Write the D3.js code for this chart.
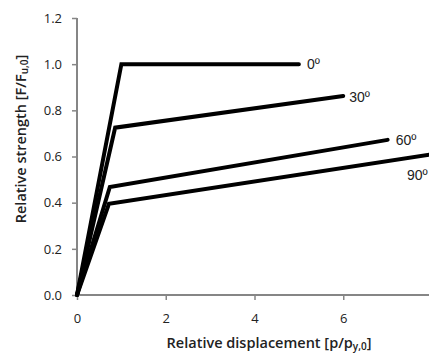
<!DOCTYPE html>
<html>
<head>
<meta charset="utf-8">
<script src="https://cdn.jsdelivr.net/npm/d3@7"></script>
<style>
  body { margin: 0; background: #fff; }
  svg { display: block; }
</style>
</head>
<body>
<svg></svg>
<script>
// curves: relative displacement vs relative strength
var angles = ["0º", "30º", "60º", "90º"]
var xVals = [
    [0, 1.0, 5],
    [0, 0.86, 6],
    [0, 0.74, 7],
    [0, 0.72, 8]
]
var yVals = [
    [0, 1.0, 1.0],
    [0, 0.725, 0.862],
    [0, 0.468, 0.672],
    [0, 0.395, 0.61]
]
var xTicks = [0, 2, 4, 6]
var yTicks = [0, 0.2, 0.4, 0.6, 0.8, 1.0, 1.2]

function main(){
    var width = 429
    var height = 354
    var svg = d3.select('svg').attr("width", width).attr("height", height)

    var xScale = d3.scaleLinear().domain([0, 8]).range([77, 432])
    var yScale = d3.scaleLinear().domain([0, 1.2]).range([295, 18])

    var axisColor = "#868686"

    var xAxis = d3.axisBottom(xScale).tickValues(xTicks).tickFormat(d3.format("d")).tickSize(5).tickPadding(14)
    svg.append("g")
        .attr("class", "axis xAxis")
        .attr("transform", "translate(0," + yScale(0) + ")")
        .call(xAxis)

    var yAxis = d3.axisLeft(yScale).tickValues(yTicks).tickFormat(d3.format(".1f")).tickSize(5).tickPadding(10)
    svg.append("g")
        .attr("class", "axis yAxis")
        .attr("transform", "translate(" + xScale(0) + ",0)")
        .call(yAxis)

    svg.selectAll(".axis .domain").remove()
    svg.selectAll(".axis line").attr("stroke", axisColor).attr("stroke-width", 1.5)
    svg.selectAll(".axis text")
        .attr("fill", "#222")
        .style("font-family", "'Open Sans', 'Liberation Sans', sans-serif")
        .style("font-size", "13px")

    // axis lines
    svg.append("line")
        .attr("x1", xScale(0)).attr("x2", xScale(8))
        .attr("y1", yScale(0)).attr("y2", yScale(0))
        .attr("stroke", axisColor).attr("stroke-width", 2)
    svg.append("line")
        .attr("x1", xScale(0)).attr("x2", xScale(0))
        .attr("y1", yScale(0)).attr("y2", yScale(1.2))
        .attr("stroke", axisColor).attr("stroke-width", 2)

    var line = d3.line()
        .x(d => xScale(d[0]))
        .y(d => yScale(d[1]))

    var series = angles.map((a, i) => ({
        name: a,
        pts: xVals[i].map((x, j) => [x, yVals[i][j]])
    }))

    svg.selectAll("path.curve")
        .data(series)
        .join("path")
        .attr("class", "curve")
        .attr("d", d => line(d.pts))
        .attr("fill", "none")
        .attr("stroke", "#000")
        .attr("stroke-width", 4)
        .attr("stroke-linejoin", "miter")
        .attr("stroke-linecap", "round")

    // angle labels (offsets from curve ends)
    var labelDx = [8, 6, 8, -25]
    var labelDy = [0, 1, 0, 21]
    svg.selectAll("text.lab")
        .data(series)
        .join("text")
        .attr("class", "lab")
        .attr("x", (d, i) => xScale(d.pts[2][0]) + labelDx[i])
        .attr("y", (d, i) => yScale(d.pts[2][1]) + labelDy[i])
        .attr("dy", "0.35em")
        .style("font-family", "'Liberation Sans', Arial, sans-serif")
        .style("font-size", "14px")
        .attr("fill", "#222")
        .text(d => d.name)

    // axis titles
    var xt = svg.append("text")
        .attr("x", 269).attr("y", 343).attr("dy", "0.35em")
        .attr("text-anchor", "middle")
        .style("font-family", "'Open Sans', 'Liberation Sans', sans-serif")
        .style("font-size", "14.5px")
        .style("font-weight", "600")
        .attr("fill", "#222")
    xt.append("tspan").text("Relative displacement  [p/p")
    xt.append("tspan").attr("baseline-shift", "-18%").style("font-size", "10px").text("y,0")
    xt.append("tspan").text("]")

    var yt = svg.append("text")
        .attr("transform", "translate(21,139) rotate(-90)")
        .attr("dy", "0.35em")
        .attr("text-anchor", "middle")
        .style("font-family", "'Open Sans', 'Liberation Sans', sans-serif")
        .style("font-size", "14.5px")
        .style("font-weight", "600")
        .attr("fill", "#222")
    yt.append("tspan").text("Relative strength [F/F")
    yt.append("tspan").attr("baseline-shift", "-18%").style("font-size", "10px").text("u,0")
    yt.append("tspan").text("]")
}
main()
</script>
</body>
</html>
